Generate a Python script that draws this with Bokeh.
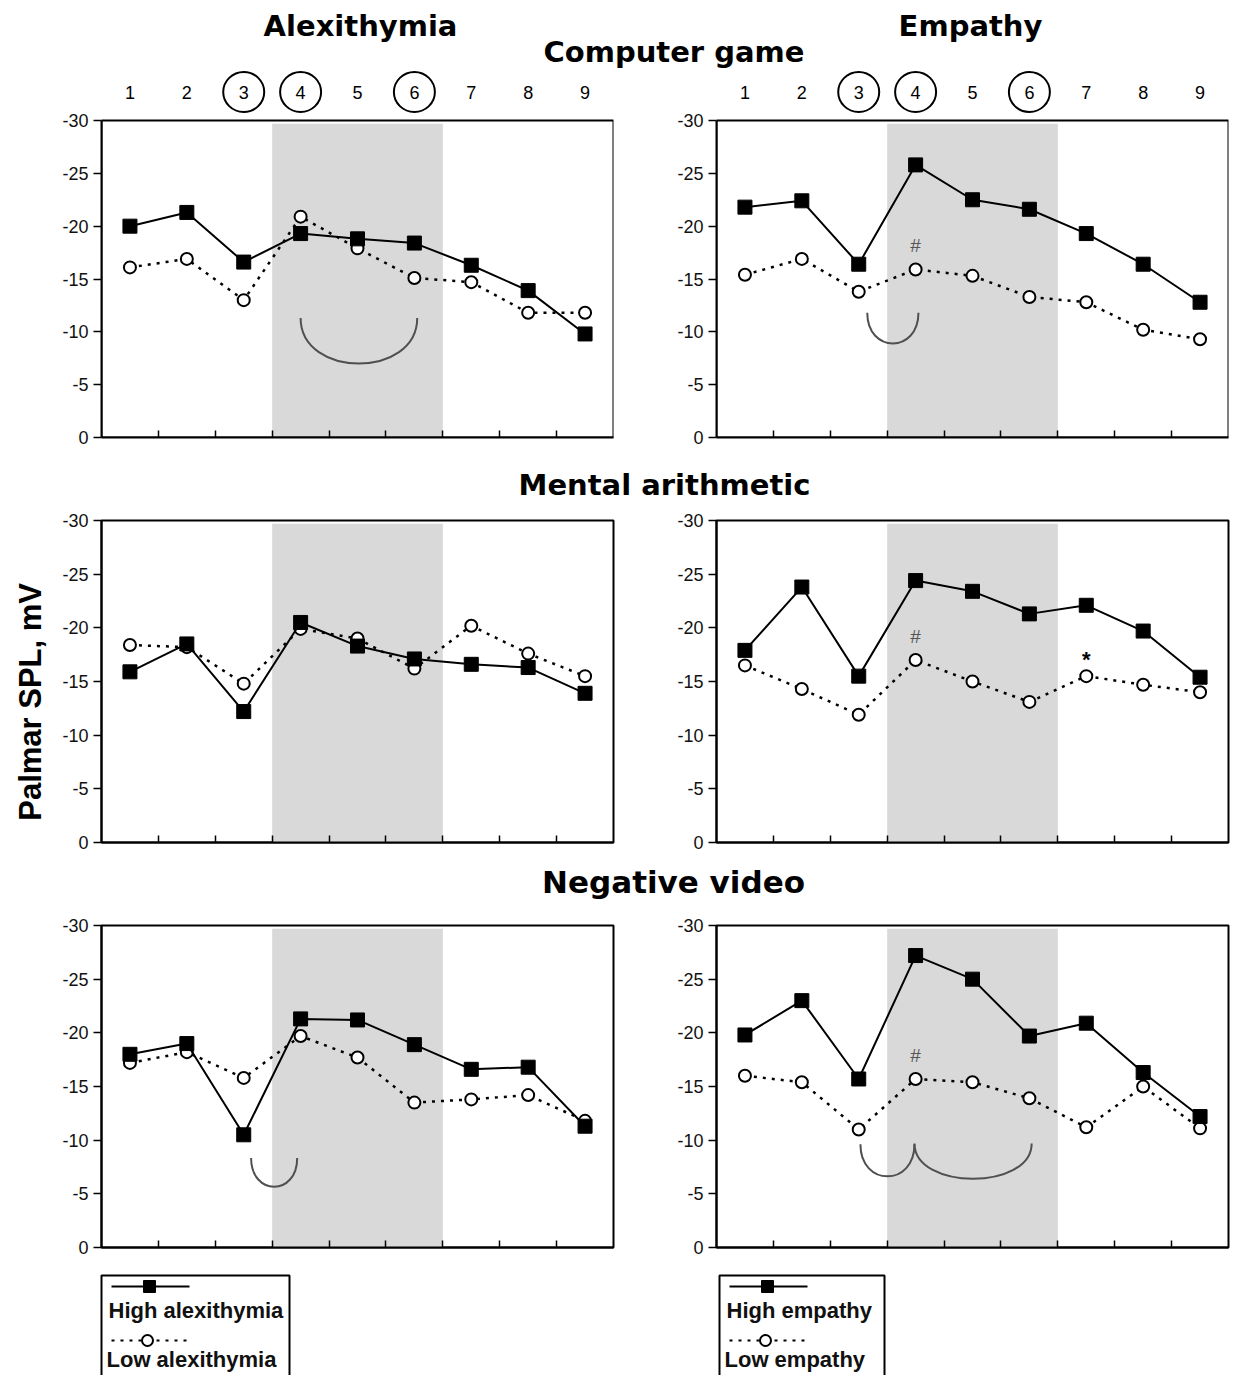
import math
from bokeh.plotting import figure
from bokeh.layouts import column, row
from bokeh.models import Range1d, FixedTicker, BoxAnnotation
from bokeh.core.properties import value
from bokeh.embed import file_html
from bokeh.resources import INLINE

# ---------------- data ----------------
phases = [1, 2, 3, 4, 5, 6, 7, 8, 9]
phase_labels = ["1", "2", "3", "4", "5", "6", "7", "8", "9"]
circled_phases = [3, 4, 6]
boundary_ticks = [1.5, 2.5, 3.5, 4.5, 5.5, 6.5, 7.5, 8.5]
y_ticks = [0, -5, -10, -15, -20, -25, -30]
y_tick_labels = ["0", "-5", "-10", "-15", "-20", "-25", "-30"]
shade_phases = [3.5, 6.5]

column_titles = ["Alexithymia", "Empathy"]
row_titles = ["Computer game", "Mental arithmetic", "Negative video"]
y_title = "Palmar SPL, mV"
legend_alex = ["High alexithymia", "Low alexithymia"]
legend_emp = ["High empathy", "Low empathy"]

alex_game_high = [-20.0, -21.3, -16.6, -19.3, -18.8, -18.4, -16.3, -13.9, -9.8]
alex_game_low = [-16.1, -16.9, -13.0, -20.9, -17.9, -15.1, -14.7, -11.8, -11.8]
emp_game_high = [-21.8, -22.4, -16.4, -25.8, -22.5, -21.6, -19.3, -16.4, -12.8]
emp_game_low = [-15.4, -16.9, -13.8, -15.9, -15.3, -13.3, -12.8, -10.2, -9.3]

alex_math_high = [-15.9, -18.5, -12.2, -20.5, -18.3, -17.1, -16.6, -16.3, -13.9]
alex_math_low = [-18.4, -18.2, -14.8, -19.9, -19.0, -16.2, -20.2, -17.6, -15.5]
emp_math_high = [-17.9, -23.8, -15.5, -24.4, -23.4, -21.3, -22.1, -19.7, -15.4]
emp_math_low = [-16.5, -14.3, -11.9, -17.0, -15.0, -13.1, -15.5, -14.7, -14.0]

alex_video_high = [-18.0, -19.0, -10.5, -21.3, -21.2, -18.9, -16.6, -16.8, -11.3]
alex_video_low = [-17.2, -18.2, -15.8, -19.7, -17.7, -13.5, -13.8, -14.2, -11.8]
emp_video_high = [-19.8, -23.0, -15.7, -27.2, -25.0, -19.7, -20.9, -16.3, -12.2]
emp_video_low = [-16.0, -15.4, -11.0, -15.7, -15.4, -13.9, -11.2, -15.0, -11.1]

# significance marks: (x, y, text)
emp_game_marks = [(4, -18.2, "#")]
emp_math_marks = [(4, -19.2, "#"), (7, -17.6, "*")]
emp_video_marks = [(4, -17.9, "#")]

# bracket arcs: (x_left, x_right, y_top, y_bottom)
alex_game_arcs = [(4.0, 6.05, -11.3, -7.0)]
emp_game_arcs = [(3.15, 4.05, -11.8, -8.9)]
alex_video_arcs = [(3.13, 3.94, -8.35, -5.66)]
emp_video_arcs = [(3.03, 3.98, -9.62, -6.63), (3.98, 6.04, -9.7, -6.41)]

# ---------------- layout constants ----------------
TICK_FONT = value("Liberation Sans")
HEAD_FONT = value("DejaVu Sans")
FRAME_W = 512
LEFT_BL, LEFT_BR = 101, 10
RIGHT_BL, RIGHT_BR = 93, 4
LEFT_W = LEFT_BL + FRAME_W + LEFT_BR
RIGHT_W = RIGHT_BL + FRAME_W + RIGHT_BR
TOTAL_W = LEFT_W + RIGHT_W


def panel(high, low, width, height, bl, br, bt, bb, frame_h30, marks=(), arcs=(), top_row=False):
    frame_h = height - bt - bb
    y_top = -30.0 * frame_h / frame_h30
    p = figure(width=width, height=height, x_range=Range1d(0.5, 9.5), y_range=Range1d(0, y_top),
               output_backend="svg", toolbar_location=None,
               min_border_left=bl, min_border_right=br, min_border_top=bt, min_border_bottom=bb)
    p.grid.visible = False
    p.background_fill_color = "white"
    p.border_fill_color = "white"

    p.add_layout(BoxAnnotation(left=shade_phases[0], right=shade_phases[1], top=-29.7, bottom=0,
                               fill_color="#d9d9d9", fill_alpha=1.0, line_color=None, level="underlay"))
    if top_row:
        p.outline_line_color = None
        p.add_layout(BoxAnnotation(left=0.5, right=9.5, top=-30, bottom=0, fill_color=None,
                                   line_color="black", line_alpha=1.0, line_width=2))
        px_per_unit = frame_h30 / 30.0
        label_y = y_top + 21.5 / px_per_unit
        p.text(x=phases, y=[label_y] * 9, text=phase_labels, text_align="center", text_baseline="middle",
               text_font=TICK_FONT, text_font_size="18px", text_color="black")
        p.ellipse(x=circled_phases, y=[label_y] * len(circled_phases), width=41, height=40,
                  width_units="screen", height_units="screen", fill_color=None,
                  line_color="black", line_width=2)
    else:
        p.outline_line_color = "black"
        p.outline_line_width = 2
        p.outline_line_alpha = 1.0

    ya = p.yaxis[0]
    ya.ticker = FixedTicker(ticks=y_ticks)
    ya.major_label_overrides = {t: l for t, l in zip(y_ticks, y_tick_labels)}
    ya.major_tick_out = 8
    ya.major_tick_in = 0
    ya.minor_tick_out = 0
    ya.minor_tick_in = 0
    ya.axis_line_width = 2
    ya.axis_line_color = "black"
    ya.major_tick_line_color = "black"
    ya.major_tick_line_width = 1.5
    ya.major_label_text_font = "Liberation Sans"
    ya.major_label_text_font_size = "18px"
    ya.major_label_text_color = "#111111"
    ya.major_label_standoff = 5
    if top_row:
        ya.bounds = (-30, 0)

    xa = p.xaxis[0]
    xa.ticker = FixedTicker(ticks=boundary_ticks)
    xa.major_label_overrides = {t: "" for t in boundary_ticks}
    xa.major_label_text_font_size = "1px"
    xa.major_tick_in = 7
    xa.major_tick_out = 0
    xa.minor_tick_in = 0
    xa.minor_tick_out = 0
    xa.axis_line_width = 2
    xa.axis_line_color = "black"
    xa.major_tick_line_color = "black"
    xa.major_tick_line_width = 1.5

    for (xl, xr, yt, yb) in arcs:
        cy = yt + (yb - yt) * 4.0 / 3.0
        p.bezier(x0=[xl], y0=[yt], x1=[xr], y1=[yt], cx0=[xl], cy0=[cy], cx1=[xr], cy1=[cy],
                 line_color="#505050", line_width=2)

    p.line(phases, low, line_color="black", line_width=2.5, line_dash="3 6")
    p.scatter(phases, low, marker="circle", size=12, fill_color="white", line_color="black", line_width=2)
    p.line(phases, high, line_color="black", line_width=2)
    p.scatter(phases, high, marker="square", size=14, fill_color="black", line_color="black", line_width=1)

    for (mx, my, mt) in marks:
        if mt == "*":
            p.text(x=[mx], y=[my], text=[mt], text_align="center", text_baseline="middle", y_offset=6,
                   text_font=TICK_FONT, text_font_style="bold", text_font_size="22px", text_color="black")
        else:
            p.text(x=[mx], y=[my], text=[mt], text_align="center", text_baseline="middle",
                   text_font=TICK_FONT, text_font_size="19px", text_color="#555555")
    return p


def strip(width, height, x0, y0):
    s = figure(width=width, height=height, x_range=Range1d(x0, x0 + width), y_range=Range1d(y0 + height, y0),
               output_backend="svg", toolbar_location=None, x_axis_type=None, y_axis_type=None,
               min_border=0, min_border_left=0, min_border_right=0, min_border_top=0, min_border_bottom=0)
    s.grid.visible = False
    s.outline_line_color = None
    return s


def head_text(s, x, y, t, size="29px"):
    s.text(x=[x], y=[y], text=[t], text_align="center", text_baseline="middle",
           text_font=HEAD_FONT, text_font_style="bold", text_font_size=size, text_color="black")


# header strip (page y 0..70)
h1 = strip(TOTAL_W, 70, 0, 0)
head_text(h1, 360, 25, column_titles[0])
head_text(h1, 970, 25, column_titles[1])
head_text(h1, 673.5, 51, row_titles[0])

# row 1 (page y 70..455)
tl = panel(alex_game_high, alex_game_low, LEFT_W, 385, LEFT_BL, LEFT_BR, 0, 18, 317,
           arcs=alex_game_arcs, top_row=True)
tr = panel(emp_game_high, emp_game_low, RIGHT_W, 385, RIGHT_BL, RIGHT_BR, 0, 18, 317,
           marks=emp_game_marks, arcs=emp_game_arcs, top_row=True)

# strip 2 (page y 455..505)
h2 = strip(TOTAL_W, 50, 0, 455)
head_text(h2, 664, 484, row_titles[1])

# row 2 (page y 505..860)
LAB_W = 56
lab = strip(LAB_W, 355, 0, 505)
lab.text(x=[30], y=[705], text=[y_title], angle=math.pi / 2, text_align="center", text_baseline="middle",
         text_font=TICK_FONT, text_font_style="bold", text_font_size="31px", text_color="black")
ml = panel(alex_math_high, alex_math_low, LEFT_W - LAB_W, 355, LEFT_BL - LAB_W, LEFT_BR, 15, 18, 322)
mr = panel(emp_math_high, emp_math_low, RIGHT_W, 355, RIGHT_BL, RIGHT_BR, 15, 18, 322,
           marks=emp_math_marks)

# strip 3 (page y 860..903)
h3 = strip(TOTAL_W, 43, 0, 860)
head_text(h3, 673, 881, row_titles[2], size="31px")

# row 3 (page y 903..1265)
bl_ = panel(alex_video_high, alex_video_low, LEFT_W, 362, LEFT_BL, LEFT_BR, 22, 18, 322,
            arcs=alex_video_arcs)
br_ = panel(emp_video_high, emp_video_low, RIGHT_W, 362, RIGHT_BL, RIGHT_BR, 22, 18, 322,
            marks=emp_video_marks, arcs=emp_video_arcs)


# legends (page y 1265..1375)
def legend(s, box_l, box_r, line_l, line_r, mark_hi, mark_lo, txt_x, labels):
    s.line([box_l, box_l, box_r, box_r], [1380, 1275, 1275, 1380], line_color="black", line_width=2)
    s.line([line_l, line_r], [1286, 1286], line_color="black", line_width=2)
    s.scatter([mark_hi], [1286], marker="square", size=12, fill_color="black", line_color="black")
    s.text(x=[txt_x], y=[1310], text=[labels[0]], text_align="left", text_baseline="middle",
           text_font=TICK_FONT, text_font_style="bold", text_font_size="22px", text_color="#111111")
    s.line([line_l, line_r - 2], [1340, 1340], line_color="black", line_width=2, line_dash="3 6")
    s.scatter([mark_lo], [1340], marker="circle", size=11, fill_color="white", line_color="black",
              line_width=2)
    s.text(x=[txt_x - 2], y=[1359], text=[labels[1]], text_align="left", text_baseline="middle",
           text_font=TICK_FONT, text_font_style="bold", text_font_size="22px", text_color="#111111")


lg_l = strip(LEFT_W, 110, 0, 1265)
legend(lg_l, 101, 289, 111, 189, 149, 147, 108, legend_alex)
lg_r = strip(RIGHT_W, 110, LEFT_W, 1265)
legend(lg_r, 719, 884, 729, 807, 767, 765, 726, legend_emp)

layout = column(
    h1,
    row(tl, tr),
    h2,
    row(lab, ml, mr),
    h3,
    row(bl_, br_),
    row(lg_l, lg_r),
)

open("out.html", "w").write(file_html(layout, INLINE))
